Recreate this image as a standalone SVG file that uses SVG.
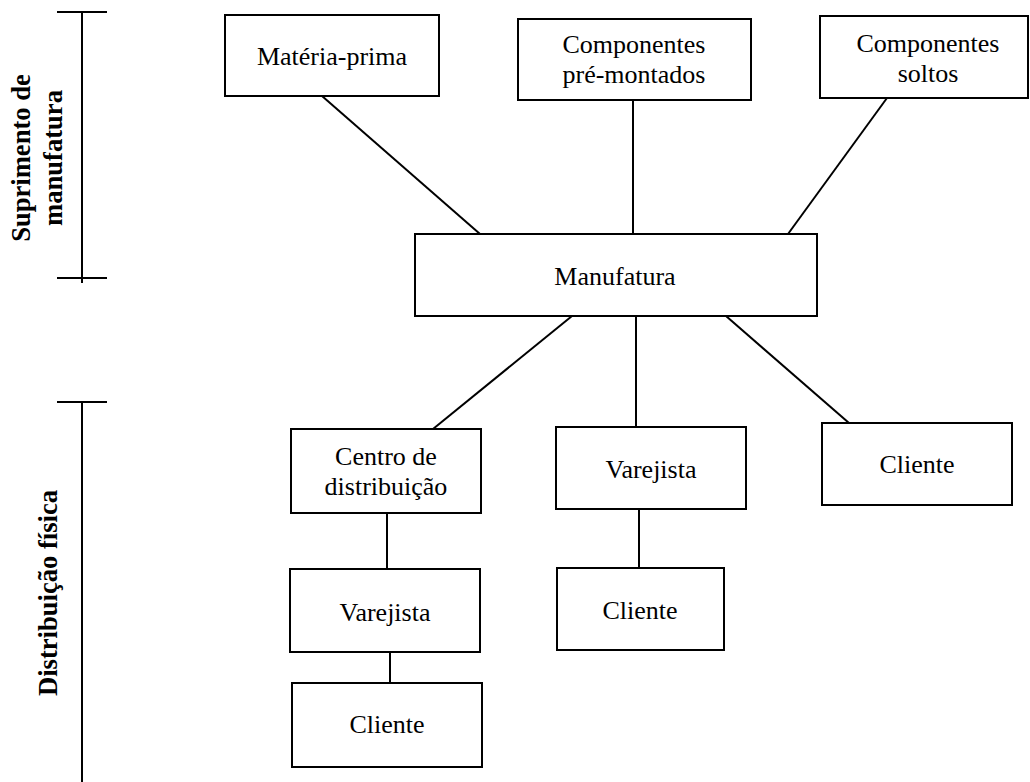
<svg xmlns="http://www.w3.org/2000/svg" width="1030" height="782" viewBox="0 0 1030 782">
<style>
.box{fill:#fff;stroke:#000;stroke-width:2}
.ln{stroke:#000;stroke-width:2;fill:none}
.t{font-family:"Liberation Serif","Times New Roman",serif;font-size:26px;fill:#000;text-anchor:middle}
.side{font-family:"Liberation Serif","Times New Roman",serif;font-size:26.6px;font-weight:bold;fill:#000;text-anchor:middle}
</style>
<rect width="1030" height="782" fill="#fff"/>
<g id="axes">
<line class="ln" x1="57" y1="12" x2="107" y2="12"/>
<line class="ln" x1="82" y1="12" x2="82" y2="283"/>
<line class="ln" x1="57" y1="278" x2="107" y2="278"/>
<line class="ln" x1="57" y1="402" x2="107" y2="402"/>
<line class="ln" x1="82" y1="402" x2="82" y2="782"/>
<text class="side" transform="translate(30,158) rotate(-90)">Suprimento de</text>
<text class="side" transform="translate(62,158) rotate(-90)">manufatura</text>
<text class="side" transform="translate(57,593) rotate(-90)">Distribuição física</text>
</g>
<g id="connectors">
<line class="ln" x1="322" y1="96" x2="480" y2="234"/>
<line class="ln" x1="633" y1="100" x2="633" y2="234"/>
<line class="ln" x1="887" y1="98" x2="788" y2="234"/>
<line class="ln" x1="572" y1="316" x2="433" y2="429"/>
<line class="ln" x1="636" y1="316" x2="636" y2="427"/>
<line class="ln" x1="726" y1="316" x2="849" y2="423"/>
<line class="ln" x1="387" y1="513" x2="387" y2="569"/>
<line class="ln" x1="390" y1="652" x2="390" y2="683"/>
<line class="ln" x1="639" y1="509" x2="639" y2="568"/>
</g>
<g id="materia-prima">
<rect class="box" x="225" y="15" width="214" height="81"/>
<text class="t" x="332" y="65">Matéria-prima</text>
</g>
<g id="componentes-pre-montados">
<rect class="box" x="518" y="19" width="233" height="81"/>
<text class="t" x="634" y="53">Componentes</text>
<text class="t" x="634" y="83">pré-montados</text>
</g>
<g id="componentes-soltos">
<rect class="box" x="820" y="16" width="208" height="82"/>
<text class="t" x="928" y="52">Componentes</text>
<text class="t" x="928" y="82">soltos</text>
</g>
<g id="manufatura">
<rect class="box" x="415" y="234" width="402" height="82"/>
<text class="t" x="615" y="285">Manufatura</text>
</g>
<g id="centro-distribuicao">
<rect class="box" x="291" y="429" width="190" height="84"/>
<text class="t" x="386" y="465">Centro de</text>
<text class="t" x="386" y="495">distribuição</text>
</g>
<g id="varejista-1">
<rect class="box" x="290" y="569" width="190" height="83"/>
<text class="t" x="385" y="621">Varejista</text>
</g>
<g id="cliente-1">
<rect class="box" x="292" y="683" width="190" height="84"/>
<text class="t" x="387" y="733">Cliente</text>
</g>
<g id="varejista-2">
<rect class="box" x="556" y="427" width="190" height="82"/>
<text class="t" x="651" y="478">Varejista</text>
</g>
<g id="cliente-2">
<rect class="box" x="557" y="568" width="167" height="82"/>
<text class="t" x="640" y="619">Cliente</text>
</g>
<g id="cliente-3">
<rect class="box" x="822" y="423" width="190" height="82"/>
<text class="t" x="917" y="473">Cliente</text>
</g>
</svg>
